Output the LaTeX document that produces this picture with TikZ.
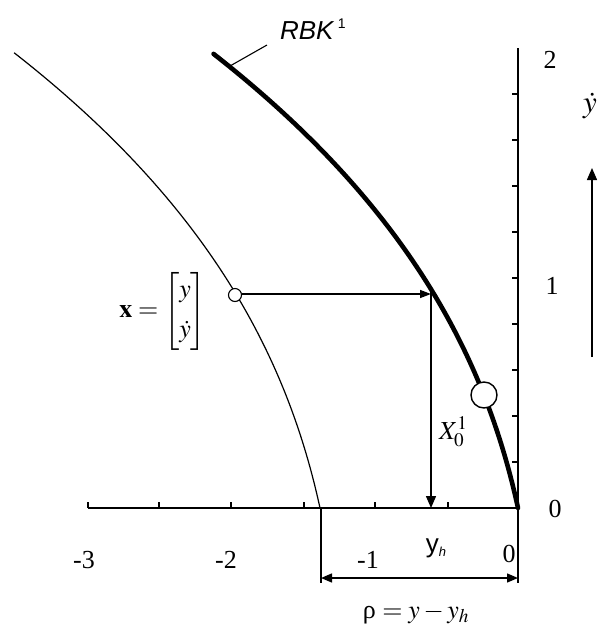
\documentclass[tikz,border=0pt]{standalone}
\usepackage{amsmath}
\usepackage{mathptmx}
\usepackage{fontspec}
\setmainfont{Liberation Serif}
\newfontfamily\arialf{Liberation Sans}
\usetikzlibrary{arrows.meta}
\tikzset{
  axisline/.style={line width=1.4pt},
  tickline/.style={line width=1.1pt},
  thincurve/.style={line width=1.2pt},
  thickcurve/.style={line width=4.6pt, line cap=round, line join=round},
  arr/.style={line width=1.4pt, -{Triangle[length=12pt,width=10pt]}},
  dimarr/.style={line width=1.4pt, {Triangle[length=11pt,width=9pt]}-{Triangle[length=11pt,width=9pt]}},
  lbl/.style={inner sep=0pt, outer sep=0pt},
  dotnode/.style={circle, draw, fill=white, inner sep=0pt},
}
\begin{document}
\begin{tikzpicture}[x=1pt, y=-1pt, font=\fontsize{26}{31}\selectfont,
  declare function={f(\u)=50*\u+35*\u*\u+9*\u*\u*\u;}]
\useasboundingbox (0,0) rectangle (601,625);

% axes
\coordinate (O) at (518,508);
\coordinate (xl) at (88,508);
\coordinate (yt) at (518,48);
\coordinate (Ob) at (518,583);
\draw[axisline] (xl) -- (O);
\draw[axisline] (yt) -- (O) -- (Ob);
\foreach \xx in {88,159,231,304,375,448} \draw[tickline] (\xx,508) -- (\xx,502);
\foreach \yy in {462,416,370,324,278,232,186,140,94} \draw[tickline] (518,\yy) -- (512,\yy);

% thin curve
\draw[thincurve] plot[domain=0:1.98, samples=80, variable=\u] ({320-f(\u)}, {508-230*\u});

% thick curve RBK
\draw[thickcurve] plot[domain=0:1.975, samples=80, variable=\u] ({518-f(\u)}, {508-230*\u});

% leader and label
\coordinate (lead0) at (230,66);
\coordinate (lead1) at (267,45);
\draw[line width=1.1pt] (lead0) -- (lead1);
\node[lbl, anchor=base west] (rbk) at (280,39) {{\arialf\itshape RBK}\,\raisebox{11pt}{\arialf\fontsize{14}{16}\selectfont 1}};

% points
\node[dotnode, minimum size=13pt, line width=1.1pt] (p) at (235,295) {};
\node[dotnode, minimum size=26pt, line width=1.4pt] (q) at (484,395) {};

% arrows
\coordinate (hit) at (431,294);
\coordinate (foot) at (431,508);
\draw[line width=1.4pt, -{Triangle[length=11pt,width=8pt]}] (p.east |- hit) -- (hit);
\draw[arr] (431,290) -- (foot);

% dimension
\coordinate (dl0) at (321,508);
\coordinate (dl1) at (321,583);
\draw[axisline] (dl0) -- (dl1);
\coordinate (da) at (321,578);
\coordinate (db) at (518,578);
\draw[dimarr] (da) -- (db);

% up arrow at right
\coordinate (ua0) at (592,357);
\coordinate (ua1) at (592,168);
\draw[arr] (ua0) -- (ua1);

% labels
\node[lbl] (l2) at (550,60) {2};
\node[lbl] (l1) at (552,286) {1};
\node[lbl] (l0r) at (555,509) {0};
\node[lbl] (lm3) at (84,560) {-3};
\node[lbl] (lm2) at (226,560) {-2};
\node[lbl] (lm1) at (368,560) {-1};
\node[lbl] (l0b) at (509,554) {0};
\node[lbl, anchor=base] (yh) at (436,552) {{\arialf y}\raisebox{-4pt}{\arialf\itshape\fontsize{13}{15}\selectfont h}};
\node[lbl, anchor=base] (rho) at (416,618) {ρ $= y - y_h$};
\node[lbl, anchor=east] (xvec) at (206,311) {$\mathbf{x} = \begin{bmatrix} y \\[9pt] \dot{y} \end{bmatrix}$};
\node[lbl, anchor=west] (X0) at (439,432) {$X_0^1$};
\node[lbl, font=\fontsize{31}{36}\selectfont] (ydot) at (590,106) {$\dot{y}$};
\end{tikzpicture}
\end{document}
